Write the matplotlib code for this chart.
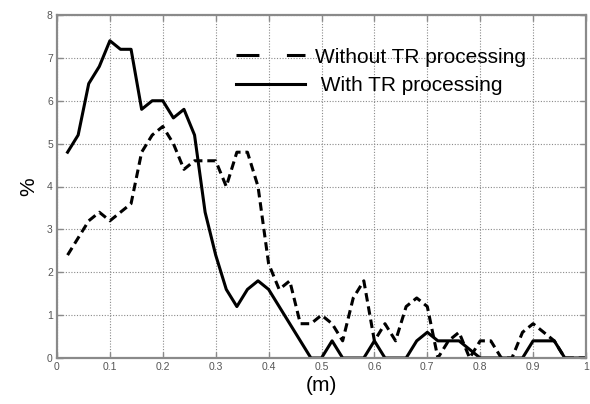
import matplotlib.pyplot as plt
from matplotlib.lines import Line2D

plt.rcParams['font.family'] = ['Liberation Sans', 'DejaVu Sans']

# distance (m)
dist = [0.02, 0.04, 0.06, 0.08, 0.10, 0.12, 0.14, 0.16, 0.18, 0.20,
        0.22, 0.24, 0.26, 0.28, 0.30, 0.32, 0.34, 0.36, 0.38, 0.40,
        0.42, 0.44, 0.46, 0.48, 0.50, 0.52, 0.54, 0.56, 0.58, 0.60,
        0.62, 0.64, 0.66, 0.68, 0.70, 0.72, 0.74, 0.76, 0.78, 0.80,
        0.82, 0.84, 0.86, 0.88, 0.90, 0.92, 0.94, 0.96, 0.98, 1.00]

without_tr = [2.4, 2.8, 3.2, 3.4, 3.2, 3.4, 3.6, 4.8, 5.2, 5.4,
              5.0, 4.4, 4.6, 4.6, 4.6, 4.0, 4.8, 4.8, 4.0, 2.2,
              1.6, 1.8, 0.8, 0.8, 1.0, 0.8, 0.4, 1.4, 1.8, 0.4,
              0.8, 0.4, 1.2, 1.4, 1.2, 0.0, 0.4, 0.6, 0.0, 0.4,
              0.4, 0.0, 0.0, 0.6, 0.8, 0.6, 0.4, 0.0, 0.0, 0.0]

with_tr = [4.8, 5.2, 6.4, 6.8, 7.4, 7.2, 7.2, 5.8, 6.0, 6.0,
           5.6, 5.8, 5.2, 3.4, 2.4, 1.6, 1.2, 1.6, 1.8, 1.6,
           1.2, 0.8, 0.4, 0.0, 0.0, 0.4, 0.0, 0.0, 0.0, 0.4,
           0.0, 0.0, 0.0, 0.4, 0.6, 0.4, 0.4, 0.4, 0.2, 0.0,
           0.0, 0.0, 0.0, 0.0, 0.4, 0.4, 0.4, 0.0, 0.0, 0.0]

xticks = [0, 0.1, 0.2, 0.3, 0.4, 0.5, 0.6, 0.7, 0.8, 0.9, 1]
xticklabels = ['0', '0.1', '0.2', '0.3', '0.4', '0.5', '0.6', '0.7', '0.8', '0.9', '1']
yticks = [0, 1, 2, 3, 4, 5, 6, 7, 8]

fig = plt.figure(figsize=(5.9, 4.04), dpi=100)
ax = fig.add_axes([57 / 590, 1 - 358 / 404, 529 / 590, 343 / 404])

ax.plot(dist, without_tr, color='black', lw=2.2, linestyle=(0, (2.8, 1.6)))
ax.plot(dist, with_tr, color='black', lw=2.2)

ax.set_xlim(0, 1)
ax.set_ylim(0, 8)
ax.set_xticks(xticks)
ax.set_xticklabels(xticklabels)
ax.set_yticks(yticks)

ax.grid(True, color='#8a8a8a', linestyle=(0, (1, 1.5)), lw=0.8)
for s in ax.spines.values():
    s.set_color('#8a8a8a')
    s.set_linewidth(1.6)
ax.tick_params(direction='in', length=4, width=1, color='#8a8a8a',
               labelsize=7.5, labelcolor='#555555', top=True, right=True, pad=3)

ax.set_ylabel('%', fontsize=15, labelpad=6)
ax.set_xlabel('(m)', fontsize=15, labelpad=3)

handles = [Line2D([], [], color='black', lw=2.2, linestyle=(0, (7.5, 9))),
           Line2D([], [], color='black', lw=2.2)]
ax.legend(handles, ['Without TR processing', ' With TR processing'],
          loc='upper left', bbox_to_anchor=(0.338, 0.905), frameon=False,
          fontsize=15, handlelength=3.3, handletextpad=0.5,
          labelspacing=0.45, borderpad=0, borderaxespad=0)

fig.savefig('out.png', dpi=100)
